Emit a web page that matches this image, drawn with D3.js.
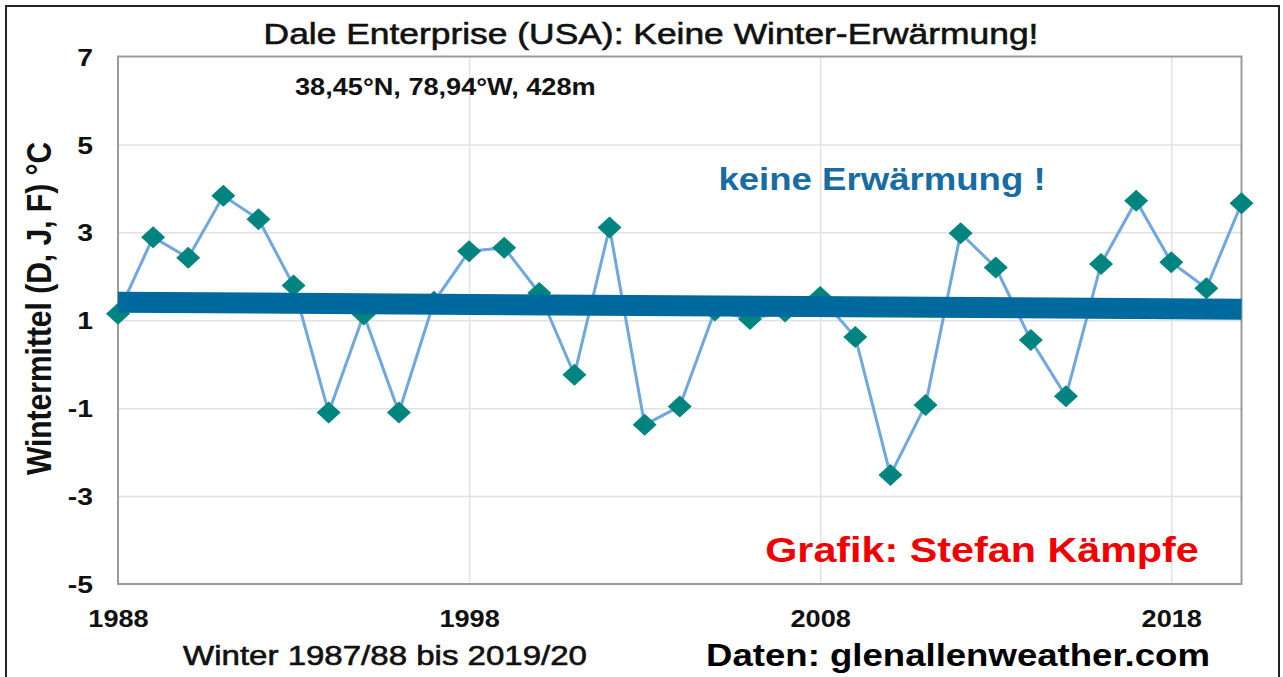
<!DOCTYPE html>
<html lang="de">
<head>
    <meta charset="UTF-8">
    <title>Dale Enterprise (USA): Keine Winter-Erwärmung!</title>
    <script src="https://d3js.org/d3.v7.min.js"></script>
    <style>
        body { margin: 0; background: #fff; }
        svg { display: block; font-family: Arial, "Liberation Sans", sans-serif; }
    </style>
</head>
<body>
    <div id="chart"></div>
    <script>
        // Winter (D, J, F) means
        const years = [1988, 1989, 1990, 1991, 1992, 1993, 1994, 1995, 1996, 1997,
                       1998, 1999, 2000, 2001, 2002, 2003, 2004, 2005, 2006, 2007,
                       2008, 2009, 2010, 2011, 2012, 2013, 2014, 2015, 2016, 2017,
                       2018, 2019, 2020];
        const temps = [1.15, 2.89, 2.42, 3.83, 3.30, 1.79, -1.10, 1.13, -1.10, 1.42,
                       2.57, 2.65, 1.62, -0.24, 3.11, -1.38, -0.96, 1.22, 1.03, 1.20,
                       1.53, 0.62, -2.52, -0.93, 2.98, 2.20, 0.55, -0.73, 2.28, 3.72,
                       2.32, 1.73, 3.66];
        // linear trend, start and end value
        const trendYears = [1988, 2020];
        const trendTemps = [1.41, 1.25];
        const xTicks = [1988, 1998, 2008, 2018];
        const yTicks = [7, 5, 3, 1, -1, -3, -5];

        const w = 1283;
        const h = 677;
        const pLeft = 118, pRight = 1241.5, pTop = 56.5, pBottom = 584;
        const sx = 1.18; // the original picture is stretched sideways

        const xScale = d3.scaleLinear().domain([1988, 2020]).range([pLeft, pRight]);
        const yScale = d3.scaleLinear().domain([-5, 7]).range([pBottom, pTop]);

        const svg = d3.select('#chart')
                    .append('svg')
                    .attr('width', w)
                    .attr('height', h);

        svg.append('rect')
            .attr('width', w)
            .attr('height', h)
            .attr('fill', '#fff');

        // outer frame
        svg.append('rect')
            .attr('x', 6)
            .attr('y', 6)
            .attr('width', 1273)
            .attr('height', h + 20)
            .attr('fill', 'none')
            .attr('stroke', '#222')
            .attr('stroke-width', 2);

        // grid
        svg.append('g')
            .attr('transform', 'translate(0,' + pBottom + ')')
            .call(d3.axisBottom(xScale).tickValues(xTicks.slice(1)).tickSize(-(pBottom - pTop)).tickFormat(''))
            .call(g => g.select('.domain').remove())
            .selectAll('line')
            .attr('stroke', '#e2e2e2')
            .attr('stroke-width', 1.5);

        svg.append('g')
            .attr('transform', 'translate(' + pLeft + ',0)')
            .call(d3.axisLeft(yScale).tickValues(yTicks.slice(1, -1)).tickSize(-(pRight - pLeft)).tickFormat(''))
            .call(g => g.select('.domain').remove())
            .selectAll('line')
            .attr('stroke', '#e2e2e2')
            .attr('stroke-width', 1.5);

        // plot border
        svg.append('rect')
            .attr('x', pLeft)
            .attr('y', pTop)
            .attr('width', pRight - pLeft)
            .attr('height', pBottom - pTop)
            .attr('fill', 'none')
            .attr('stroke', '#9a9a9a')
            .attr('stroke-width', 2);

        // tick labels (plain hyphen as minus, like the original)
        svg.append('g')
            .attr('transform', 'translate(' + pLeft + ',0)')
            .call(d3.axisLeft(yScale).tickValues(yTicks).tickSize(0).tickFormat(d => String(d)))
            .call(g => g.select('.domain').remove())
            .selectAll('text')
            .attr('x', -25 / sx)
            .attr('dy', '0.36em')
            .attr('transform', 'scale(' + sx + ',1)')
            .style('font-size', '24px')
            .style('font-weight', 'bold')
            .style('font-family', 'Arial, "Liberation Sans", sans-serif')
            .attr('fill', '#111');

        svg.append('g')
            .attr('transform', 'translate(0,' + pBottom + ')')
            .call(d3.axisBottom(xScale).tickValues(xTicks).tickSize(0).tickFormat(d => String(d)))
            .call(g => g.select('.domain').remove())
            .selectAll('text')
            .attr('x', 0)
            .attr('y', 43)
            .attr('dy', 0)
            .attr('transform', 'scale(' + sx + ',1)')
            .style('font-size', '23px')
            .style('font-weight', 'bold')
            .style('font-family', 'Arial, "Liberation Sans", sans-serif')
            .attr('fill', '#111');

        // data line and markers
        const points = years.map((y, i) => [y, temps[i]]);
        const line = d3.line()
                    .x(d => xScale(d[0]))
                    .y(d => yScale(d[1]));

        svg.append('path')
            .datum(points)
            .attr('d', line)
            .attr('fill', 'none')
            .attr('stroke', '#6fa7de')
            .attr('stroke-width', 3);

        const diamond = 'M0,-11L12,0L0,11L-12,0Z';
        svg.selectAll('.marker')
            .data(points)
            .enter()
            .append('path')
            .attr('class', 'marker')
            .attr('d', diamond)
            .attr('transform', d => 'translate(' + xScale(d[0]) + ',' + yScale(d[1]) + ')')
            .attr('fill', '#00847f');

        // trend
        svg.append('path')
            .datum(trendYears.map((y, i) => [y, trendTemps[i]]))
            .attr('d', line)
            .attr('fill', 'none')
            .attr('stroke', '#006a9e')
            .attr('stroke-width', 21);

        // texts
        function label(x, y, str, size, weight, color, anchor) {
            const t = svg.append('text')
                .attr('transform', 'translate(' + x + ',' + y + ') scale(' + sx + ',1)')
                .attr('text-anchor', anchor || 'middle')
                .style('font-size', size + 'px')
                .style('font-weight', weight)
                .attr('fill', color)
                .text(str);
            if (weight === 'normal') {
                // the original's regular text is a bit heavier
                t.attr('stroke', color).attr('stroke-width', 0.6);
            }
        }

        label(651, 44, 'Dale Enterprise (USA): Keine Winter-Erwärmung!', 30, 'normal', '#111');
        label(295, 95, '38,45°N, 78,94°W, 428m', 23, 'bold', '#111', 'start');
        label(882, 190, 'keine Erwärmung !', 31, 'bold', '#176ca3');
        label(982, 562, 'Grafik: Stefan Kämpfe', 35, 'bold', '#f00000');
        label(958, 666, 'Daten: glenallenweather.com', 31, 'bold', '#000');
        label(385, 665, 'Winter 1987/88 bis 2019/20', 28, 'normal', '#111');

        svg.append('text')
            .attr('transform', 'translate(51,308.5) rotate(-90) scale(1,' + sx + ')')
            .attr('text-anchor', 'middle')
            .style('font-size', '30px')
            .style('font-weight', 'bold')
            .attr('fill', '#111')
            .text('Wintermittel (D, J, F) °C');
    </script>
</body>
</html>
